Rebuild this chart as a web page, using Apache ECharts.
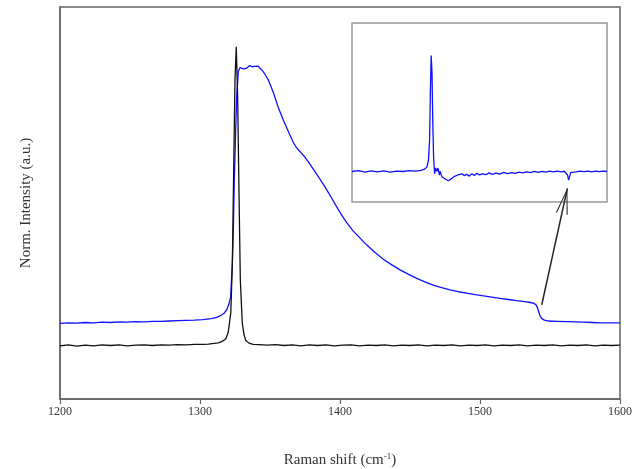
<!DOCTYPE html>
<html>
<head>
<meta charset="utf-8">
<script src="https://cdn.jsdelivr.net/npm/echarts@6/dist/echarts.min.js"></script>
<style>html,body{margin:0;padding:0;background:#fff}#c{width:635px;height:469px}</style>
</head>
<body>
<div id="c"></div>
<script>
// x-axis tick labels (Raman shift, cm^-1)
const xTicks = [1200, 1300, 1400, 1500, 1600];

// Black spectrum: [Raman shift, normalized intensity]
const blackSpectrum = [
  [1200,-0.001],[1206,0.002],[1212,-0.002],[1218,0.001],[1224,-0.001],[1230,0.002],[1236,0.000],
  [1242,0.002],[1248,-0.001],[1254,0.001],[1260,0.002],[1266,0.000],[1272,0.002],[1278,0.001],
  [1284,0.003],[1290,0.002],[1296,0.004],[1302,0.004],[1306,0.005],[1310,0.007],[1313,0.009],
  [1315.5,0.013],[1318.4,0.022],[1320.2,0.045],[1322,0.11],[1323.1,0.27],[1324.1,0.6],
  [1325,0.89],[1325.9,1.0],[1326.9,0.83],[1327.9,0.5],[1328.8,0.22],[1330.2,0.075],
  [1331.5,0.035],[1332.6,0.018],[1335,0.008],[1338,0.004],[1342,0.003],[1348,0.001],
  [1354,0.003],[1360,0.000],[1366,0.002],[1372,-0.001],[1378,0.002],[1384,0.000],[1390,0.002],
  [1396,-0.001],[1402,0.001],[1408,0.002],[1414,-0.001],[1420,0.001],[1426,0.000],[1432,0.002],
  [1438,-0.001],[1444,0.001],[1450,0.000],[1456,0.002],[1462,-0.001],[1468,0.001],[1474,0.000],
  [1480,0.002],[1486,-0.001],[1492,0.001],[1498,0.000],[1504,0.002],[1510,-0.001],[1516,0.001],
  [1522,0.000],[1528,0.002],[1534,-0.001],[1540,0.001],[1546,0.000],[1552,0.002],[1558,-0.001],
  [1564,0.001],[1570,0.000],[1576,0.002],[1582,-0.001],[1588,0.001],[1594,0.000],[1600,0.001]
];

// Blue spectrum: [Raman shift, normalized intensity]
const blueSpectrum = [
  [1200,0.074],[1206,0.076],[1212,0.075],[1218,0.077],[1224,0.076],[1230,0.078],[1236,0.077],
  [1242,0.079],[1248,0.078],[1254,0.080],[1260,0.079],[1266,0.081],[1272,0.081],[1278,0.082],
  [1284,0.083],[1290,0.084],[1296,0.085],[1302,0.087],[1308,0.090],[1312,0.094],[1314.3,0.099],
  [1317,0.107],[1319,0.119],[1320.6,0.138],[1321.9,0.163],[1323.1,0.276],[1323.8,0.387],
  [1324.5,0.554],[1325.5,0.722],[1326.2,0.833],[1327.4,0.918],[1328.6,0.930],[1329.8,0.933],
  [1331,0.926],[1332.1,0.922],[1333.3,0.928],[1334.5,0.933],[1335.5,0.937],[1336.4,0.939],
  [1337.3,0.933],[1338.1,0.928],[1339,0.934],[1339.8,0.939],[1341.6,0.935],[1342.9,0.928],
  [1344.6,0.920],[1346.4,0.908],[1348.8,0.889],[1350.6,0.868],[1352.4,0.847],[1355.9,0.797],
  [1359.5,0.755],[1363.1,0.716],[1366.6,0.680],[1368.4,0.666],[1370.2,0.655],[1372.6,0.643],
  [1375,0.630],[1377.4,0.615],[1379.8,0.598],[1384.5,0.565],[1389.3,0.531],[1394.1,0.493],
  [1398.8,0.455],[1401.8,0.432],[1404.8,0.411],[1409.5,0.383],[1414,0.361],[1419,0.337],
  [1425,0.311],[1431,0.289],[1437,0.270],[1442.9,0.253],[1449,0.238],[1454.8,0.225],
  [1460.7,0.213],[1466.6,0.202],[1472.6,0.194],[1478.6,0.186],[1484.5,0.180],[1490.5,0.175],
  [1496.5,0.170],[1502.4,0.166],[1508.4,0.162],[1514.3,0.158],[1520.2,0.154],[1526.2,0.150],
  [1532,0.147],[1536,0.144],[1538.6,0.141],[1540.3,0.135],[1541.6,0.119],[1542.8,0.100],
  [1544,0.091],[1546,0.085],[1549,0.082],[1555,0.081],[1561.9,0.080],[1568,0.079],[1574,0.078],
  [1580,0.077],[1585.7,0.076],[1592,0.076],[1600,0.076]
];

// Inset spectrum: [Raman shift, relative intensity]
const insetSpectrum = [
  [1200,0.000],[1210,0.008],[1220,-0.005],[1230,0.006],[1240,-0.004],[1250,0.005],[1260,-0.006],
  [1270,0.004],[1280,0.000],[1290,0.007],[1300,0.004],[1308,0.010],[1314,0.020],[1317.6,0.040],
  [1320,0.100],[1321.7,0.270],[1323,0.700],[1324.2,1.000],[1325.5,0.850],[1326.8,0.400],
  [1328,0.120],[1329.6,-0.020],[1331,0.030],[1332.2,0.045],[1333.5,0.000],[1334.5,0.030],
  [1335.8,0.010],[1337,-0.030],[1338.5,0.000],[1339.6,-0.025],[1341,-0.045],[1343.7,-0.040],
  [1346,-0.065],[1349,-0.055],[1351,-0.080],[1354.2,-0.070],[1357,-0.060],[1360,-0.045],
  [1363,-0.050],[1366,-0.030],[1369,-0.040],[1372.5,-0.020],[1376,-0.035],[1380,-0.025],
  [1384,-0.040],[1388,-0.020],[1392,-0.035],[1396,-0.015],[1400,-0.030],[1405,-0.020],
  [1410,-0.028],[1415,-0.012],[1420,-0.025],[1426,-0.015],[1432,-0.022],[1438,-0.008],
  [1444,-0.018],[1450,-0.010],[1456,-0.016],[1462,-0.005],[1468,-0.012],[1474,-0.004],
  [1480,-0.010],[1486,0.000],[1492,-0.008],[1498,0.002],[1504,-0.006],[1510,0.003],
  [1516,-0.004],[1522,0.004],[1528,-0.003],[1533,0.002],[1536,-0.005],[1538,-0.030],
  [1539.8,-0.075],[1541.5,-0.040],[1543,-0.010],[1546,0.002],[1552,-0.003],[1558,0.004],
  [1564,-0.002],[1570,0.003],[1576,-0.003],[1582,0.004],[1588,-0.002],[1594,0.003],[1600,0.000]
];

// Arrow annotation from the step in the blue curve to the inset dip (data coords of main plot)
const arrowFrom = [1544.1, 0.136];
const arrowTo = [1562.4, 0.526];

const serif = 'Liberation Serif';
const chart = echarts.init(document.getElementById('c'), null, {renderer: 'canvas'});
chart.setOption({
  animation: false,
  backgroundColor: '#fff',
  grid: [
    {left: 60, right: 15, top: 7, bottom: 70, show: true, borderColor: '#666', borderWidth: 1.5,
     containLabel: false, outerBoundsMode: 'none'},
    {left: 352, top: 23, width: 255, height: 179, show: true, borderColor: '#999', borderWidth: 1.5,
     backgroundColor: '#fff', containLabel: false, outerBoundsMode: 'none'}
  ],
  xAxis: [
    {
      type: 'value', gridIndex: 0, min: xTicks[0], max: xTicks[xTicks.length - 1], interval: 100,
      axisLine: {show: true, onZero: false, lineStyle: {color: '#666', width: 1.5}},
      axisTick: {show: true, inside: false, length: 5, lineStyle: {color: '#666', width: 1.2}},
      axisLabel: {show: true, margin: 7, color: '#333', fontFamily: serif, fontSize: 12,
                  customValues: xTicks, formatter: v => String(v)},
      splitLine: {show: false},
      name: '{n|Raman shift (cm}{s|-1}{n|)}',
      nameLocation: 'middle', nameGap: 53,
      nameTextStyle: {
        rich: {
          n: {fontFamily: serif, fontSize: 15, color: '#333'},
          s: {fontFamily: serif, fontSize: 9, color: '#333', verticalAlign: 'bottom', padding: [0, 0, 8, 0]}
        }
      }
    },
    {
      type: 'value', gridIndex: 1, min: 1200, max: 1600,
      axisLine: {show: false, onZero: false}, axisTick: {show: false}, axisLabel: {show: false}, splitLine: {show: false}
    }
  ],
  yAxis: [
    {
      type: 'value', gridIndex: 0, min: -0.179, max: 1.133,
      axisLine: {show: true, onZero: false, lineStyle: {color: '#666', width: 1.5}},
      axisTick: {show: true, inside: true, length: 5, customValues: [0], lineStyle: {color: '#666', width: 1.2}},
      axisLabel: {show: false},
      splitLine: {show: false},
      name: 'Norm. Intensity (a.u.)',
      nameLocation: 'middle', nameGap: 26,
      nameTextStyle: {fontFamily: serif, fontSize: 15, color: '#333'}
    },
    {
      type: 'value', gridIndex: 1, min: -0.263, max: 1.28,
      axisLine: {show: false, onZero: false}, axisTick: {show: false}, axisLabel: {show: false}, splitLine: {show: false}
    }
  ],
  series: [
    {
      type: 'line', xAxisIndex: 0, yAxisIndex: 0, data: blueSpectrum, showSymbol: false, symbol: 'none',
      lineStyle: {color: '#1010ff', width: 1.3}, silent: true
    },
    {
      type: 'line', xAxisIndex: 0, yAxisIndex: 0, data: blackSpectrum, showSymbol: false, symbol: 'none',
      lineStyle: {color: '#111', width: 1.3}, silent: true,
      markLine: {
        silent: true, animation: false,
        symbol: ['none', 'path://M6,0 L0,26 L1.1,26.3 L6,3.5 L10.9,26.3 L12,26 Z'],
        symbolSize: [12, 26],
        symbolOffset: [0, [0, 13]],
        label: {show: false},
        emphasis: {disabled: true},
        lineStyle: {color: '#222', width: 1.5, type: 'solid'},
        data: [[{coord: arrowFrom}, {coord: arrowTo}]]
      }
    },
    {
      type: 'line', xAxisIndex: 1, yAxisIndex: 1, data: insetSpectrum, showSymbol: false, symbol: 'none',
      lineStyle: {color: '#1010ff', width: 1.3}, silent: true
    }
  ]
});
</script>
</body>
</html>
